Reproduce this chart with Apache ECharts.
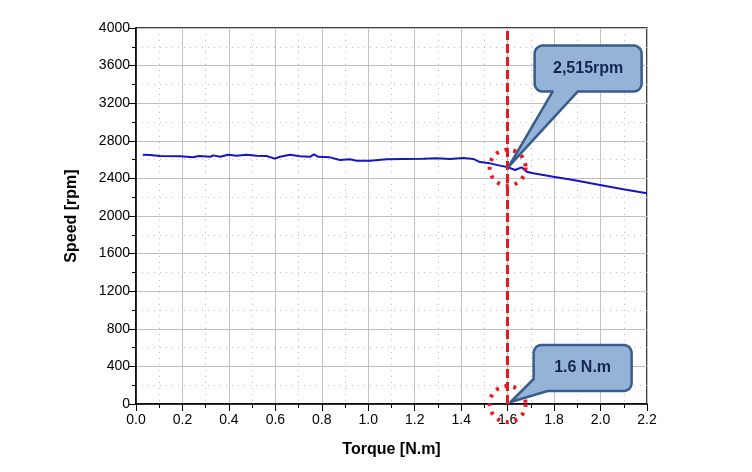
<!DOCTYPE html>
<html>
<head>
<meta charset="utf-8">
<script src="https://cdn.jsdelivr.net/npm/echarts@6/dist/echarts.min.js"></script>
<style>html,body{margin:0;padding:0;background:#fff;}#c{width:752px;height:472px;}</style>
</head>
<body>
<div id="c"></div>
<script>
// Data
const torque = [0.029,0.06,0.103,0.19,0.245,0.27,0.32,0.333,0.362,0.397,0.433,0.476,0.519,0.562,0.598,0.62,0.663,0.706,0.749,0.766,0.785,0.835,0.878,0.921,0.95,1.007,1.079,1.15,1.237,1.294,1.352,1.409,1.452,1.481,1.524,1.567,1.603,1.632,1.66,1.682,1.71,1.797,1.883,1.998,2.098,2.199];
const speed  = [2652,2649,2638,2635,2624,2638,2630,2645,2630,2652,2641,2652,2641,2638,2610,2630,2652,2635,2630,2655,2630,2624,2596,2603,2588,2588,2603,2607,2610,2614,2607,2617,2607,2574,2560,2536,2518,2489,2518,2471,2454,2418,2383,2330,2284,2241];
const markTorque = 1.6;
const markSpeed = 2515;
const calloutTexts = ['2,515rpm', '1.6 N.m'];
const xTicks = [0,0.2,0.4,0.6,0.8,1.0,1.2,1.4,1.6,1.8,2.0,2.2];
const yTicks = [0,400,800,1200,1600,2000,2400,2800,3200,3600,4000];

const chart = echarts.init(document.getElementById('c'));
const lineData = torque.map((t,i)=>[t,speed[i]]);
const axisCommon = {
  axisLine:{show:true,onZero:false,lineStyle:{color:'#000',width:1.5}},
  axisTick:{show:true,inside:false,length:7,lineStyle:{color:'#000',width:1}},
  minorTick:{show:true,splitNumber:2,length:4,lineStyle:{color:'#000',width:1}},
  splitLine:{show:true,lineStyle:{color:'#c0c0c0',width:1}},
  minorSplitLine:{show:true,lineStyle:{color:'#bdbdbd',width:1,type:[1,5]}},
  axisLabel:{color:'#000',fontSize:14,fontFamily:'Liberation Sans, Arial'},
  nameLocation:'middle',
  nameTextStyle:{color:'#000',fontSize:16,fontWeight:'bold',fontFamily:'Liberation Sans, Arial'}
};
chart.setOption({
  animation:false,
  grid:{left:136,right:105,top:28,bottom:68,show:true,borderColor:'#000',borderWidth:1.5,backgroundColor:'transparent'},
  xAxis:Object.assign({},axisCommon,{
    type:'value',min:xTicks[0],max:xTicks[xTicks.length-1],interval:0.2,
    name:'Torque [N.m]',nameGap:38,
    axisLabel:Object.assign({},axisCommon.axisLabel,{margin:9,formatter:v=>v.toFixed(1)})
  }),
  yAxis:Object.assign({},axisCommon,{
    type:'value',min:yTicks[0],max:yTicks[yTicks.length-1],interval:400,
    name:'Speed [rpm]',nameGap:56,
    axisLabel:Object.assign({},axisCommon.axisLabel,{margin:6,formatter:v=>String(v)})
  }),
  series:[{
    type:'line',data:lineData,showSymbol:false,symbol:'none',
    lineStyle:{color:'#1414c8',width:2},
    markLine:{silent:true,symbol:'none',label:{show:false},
      lineStyle:{color:'#e8191f',width:3,type:[9,4]},
      data:[{xAxis:markTorque}]},
    markPoint:{silent:true,symbol:'circle',symbolSize:36,label:{show:false},
      itemStyle:{color:'rgba(0,0,0,0)',borderColor:'#e8191f',borderWidth:4,borderType:[3,6]},
      data:[{coord:[markTorque,markSpeed]},{coord:[markTorque,0]}]}
  }]
});

// rounded corner helper: arc points around center (cx,cy) from angle a0 to a1
function arc(cx,cy,r,a0,a1){
  const pts=[];const n=6;
  for(let i=0;i<=n;i++){const a=a0+(a1-a0)*i/n;pts.push([cx+r*Math.cos(a),cy+r*Math.sin(a)]);}
  return pts;
}
const PI=Math.PI;
const p1 = chart.convertToPixel({gridIndex:0},[markTorque,markSpeed]);
const p2 = chart.convertToPixel({gridIndex:0},[markTorque,0]);
function callout1(tip){
  const x0=tip[0]+27,y0=tip[1]-122,x1=tip[0]+134,y1=tip[1]-76,r=8;
  const pts=[].concat(
    arc(x0+r,y0+r,r,PI,1.5*PI),
    arc(x1-r,y0+r,r,1.5*PI,2*PI),
    arc(x1-r,y1-r,r,0,0.5*PI),
    [[tip[0]+70,y1],[tip[0]+1,tip[1]-1],[tip[0]+45,y1]],
    arc(x0+r,y1-r,r,0.5*PI,PI)
  );
  return {pts,cx:(x0+x1)/2,cy:(y0+y1)/2};
}
function callout2(tip){
  const x0=tip[0]+26,y0=tip[1]-59,x1=tip[0]+124,y1=tip[1]-13,r=8;
  const pts=[].concat(
    arc(x0+r,y0+r,r,PI,1.5*PI),
    arc(x1-r,y0+r,r,1.5*PI,2*PI),
    arc(x1-r,y1-r,r,0,0.5*PI),
    [[x0+14,y1],[tip[0]+3,tip[1]-2],[x0,y1-12]]
  );
  return {pts,cx:(x0+x1)/2,cy:(y0+y1)/2};
}
const c1=callout1(p1), c2=callout2(p2);
const mk=(c,txt)=>[
  {type:'polygon',shape:{points:c.pts},style:{fill:'#95b3d7',stroke:'#385d8a',lineWidth:2.5,lineJoin:'round'},z:100},
  {type:'text',x:c.cx,y:c.cy,style:{text:txt,fill:'#14264f',font:'bold 16px "Liberation Sans", Arial, sans-serif',align:'center',verticalAlign:'middle'},z:101}
];
chart.setOption({graphic:[...mk(c1,calloutTexts[0]),...mk(c2,calloutTexts[1])]});
</script>
</body>
</html>
